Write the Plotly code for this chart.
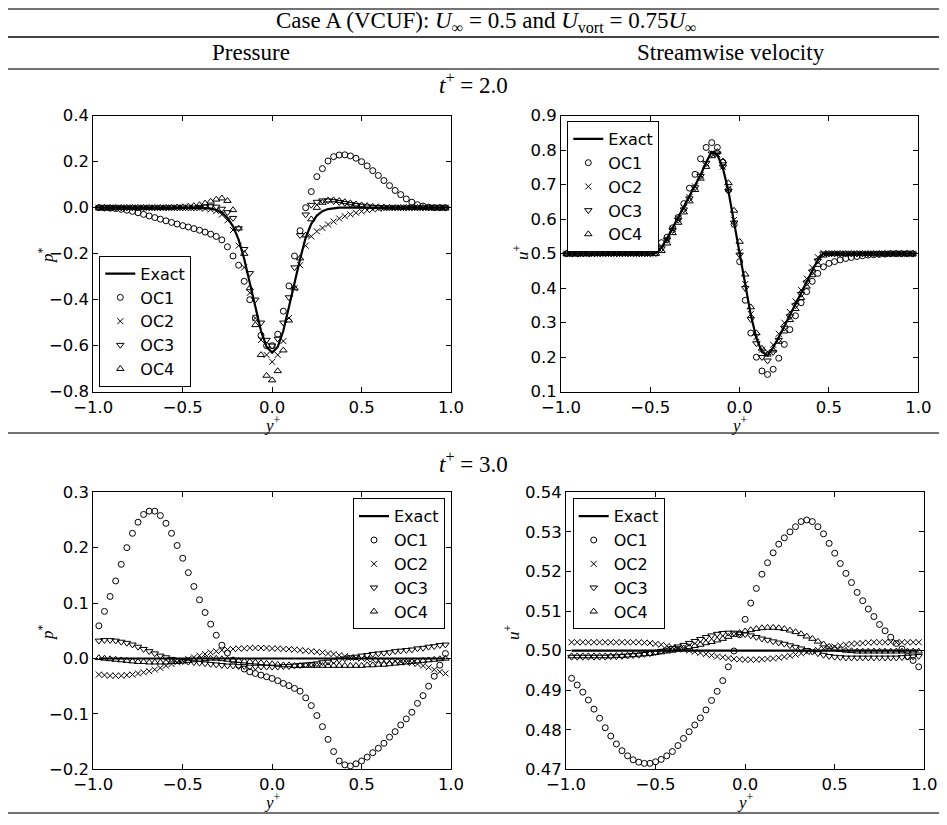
import plotly.graph_objects as go

# ---------------- data ----------------
Y_PLUS = [-0.9688, -0.9375, -0.9062, -0.8750, -0.8438, -0.8125, -0.7812, -0.7500,
          -0.7188, -0.6875, -0.6562, -0.6250, -0.5938, -0.5625, -0.5312, -0.5000,
          -0.4688, -0.4375, -0.4062, -0.3750, -0.3438, -0.3125, -0.2812, -0.2500,
          -0.2188, -0.1875, -0.1562, -0.1250, -0.0938, -0.0625, -0.0312, 0.0,
          0.0312, 0.0625, 0.0938, 0.1250, 0.1562, 0.1875, 0.2188, 0.2500,
          0.2812, 0.3125, 0.3438, 0.3750, 0.4062, 0.4375, 0.4688, 0.5000,
          0.5312, 0.5625, 0.5938, 0.6250, 0.6562, 0.6875, 0.7188, 0.7500,
          0.7812, 0.8125, 0.8438, 0.8750, 0.9062, 0.9375, 0.9688]

SERIES_NAMES = ["Exact", "OC1", "OC2", "OC3", "OC4"]

# t+ = 2.0, pressure
P2_EXACT = [0, 0, 0, 0, 0, 0, 0, 0, 0, 0, 0, 0, 0, 0, 0, 0,
            0, 0, 0, -0.002, -0.004, -0.010, -0.022, -0.044,
            -0.081, -0.139, -0.223, -0.323, -0.432, -0.535, -0.605, -0.630,
            -0.605, -0.535, -0.432, -0.323, -0.223, -0.130, -0.070, -0.034,
            -0.015, -0.006, -0.002, 0, 0, 0, 0, 0,
            0, 0, 0, 0, 0, 0, 0, 0, 0, 0, 0, 0, 0, 0, 0]
P2_OC1 = [0.000, -0.001, -0.002, -0.004, -0.007, -0.011, -0.016, -0.022,
          -0.029, -0.036, -0.043, -0.050, -0.057, -0.064, -0.071, -0.078,
          -0.084, -0.091, -0.098, -0.106, -0.115, -0.125, -0.140, -0.170,
          -0.210, -0.250, -0.320, -0.400, -0.480, -0.555, -0.600, -0.600,
          -0.550, -0.450, -0.340, -0.210, -0.100, 0.000, 0.070, 0.135,
          0.170, 0.203, 0.222, 0.229, 0.230, 0.225, 0.215, 0.200,
          0.182, 0.161, 0.140, 0.118, 0.096, 0.075, 0.057, 0.038,
          0.024, 0.013, 0.007, 0.002, 0.000, 0.000, 0.000]
P2_OC2 = [0, 0, 0, 0, 0, 0, 0, 0, 0, 0, 0, 0, 0, 0, 0, 0,
          0, 0, -0.002, -0.004, -0.008, -0.015, -0.030, -0.055,
          -0.097, -0.165, -0.260, -0.370, -0.480, -0.575, -0.640, -0.670,
          -0.640, -0.580, -0.480, -0.350, -0.250, -0.165, -0.125, -0.103,
          -0.088, -0.073, -0.060, -0.047, -0.037, -0.029, -0.022, -0.016,
          -0.011, -0.007, -0.004, -0.002, -0.001, 0, 0, 0,
          0, 0, 0, 0, 0, 0, 0]
P2_OC3 = [0, 0, 0, 0, 0, 0, 0, 0, 0, 0, 0, 0, 0, 0, 0, 0,
          0, 0, 0.003, 0.005, 0.006, 0.004, -0.005, -0.020,
          -0.045, -0.090, -0.180, -0.285, -0.400, -0.500, -0.575, -0.600,
          -0.570, -0.500, -0.390, -0.260, -0.120, -0.030, 0.012, 0.025,
          0.031, 0.031, 0.028, 0.024, 0.020, 0.015, 0.011, 0.008,
          0.005, 0.003, 0.002, 0.001, 0, 0, 0, 0,
          0, 0, 0, 0, 0, 0, 0]
P2_OC4 = [0, 0, 0, 0, 0, 0, 0, 0, 0, 0, 0, 0, 0, 0.001, 0.002, 0.003,
          0.005, 0.008, 0.012, 0.019, 0.027, 0.036, 0.041, 0.030,
          -0.010, -0.090, -0.200, -0.350, -0.510, -0.640, -0.730, -0.750,
          -0.710, -0.620, -0.490, -0.350, -0.220, -0.120, -0.050, 0.000,
          0.022, 0.032, 0.033, 0.030, 0.025, 0.020, 0.015, 0.011,
          0.008, 0.005, 0.003, 0.002, 0.001, 0, 0, 0,
          0, 0, 0, 0, 0, 0, 0]

# t+ = 2.0, streamwise velocity
U2_EXACT = [0.5, 0.5, 0.5, 0.5, 0.5, 0.5, 0.5, 0.5, 0.5, 0.5, 0.5, 0.5, 0.5, 0.5, 0.5, 0.5,
            0.503, 0.518, 0.545, 0.575, 0.605, 0.635, 0.665, 0.695,
            0.728, 0.765, 0.795, 0.787, 0.748, 0.680, 0.590, 0.500,
            0.410, 0.322, 0.255, 0.215, 0.205, 0.228, 0.258, 0.290,
            0.320, 0.352, 0.385, 0.418, 0.450, 0.482, 0.500, 0.5,
            0.5, 0.5, 0.5, 0.5, 0.5, 0.5, 0.5, 0.5, 0.5, 0.5, 0.5, 0.5, 0.5, 0.5, 0.5]
U2_OC1 = [0.500, 0.500, 0.500, 0.501, 0.501, 0.502, 0.503, 0.504,
          0.505, 0.506, 0.507, 0.508, 0.510, 0.512, 0.515, 0.518,
          0.523, 0.532, 0.548, 0.575, 0.605, 0.645, 0.690, 0.730,
          0.775, 0.808, 0.822, 0.808, 0.765, 0.685, 0.585, 0.477,
          0.365, 0.270, 0.200, 0.160, 0.150, 0.165, 0.197, 0.237,
          0.280, 0.320, 0.358, 0.390, 0.420, 0.443, 0.462, 0.472,
          0.477, 0.482, 0.486, 0.489, 0.492, 0.494, 0.496, 0.497,
          0.498, 0.499, 0.500, 0.500, 0.500, 0.500, 0.500]
U2_OC2 = [0.5, 0.5, 0.5, 0.5, 0.5, 0.5, 0.5, 0.5, 0.5, 0.5, 0.5, 0.5, 0.5, 0.5, 0.5, 0.5,
          0.502, 0.516, 0.542, 0.572, 0.602, 0.633, 0.664, 0.695,
          0.728, 0.762, 0.792, 0.788, 0.752, 0.688, 0.598, 0.505,
          0.412, 0.325, 0.258, 0.222, 0.215, 0.236, 0.268, 0.300,
          0.331, 0.362, 0.395, 0.428, 0.460, 0.490, 0.502, 0.5,
          0.5, 0.5, 0.5, 0.5, 0.5, 0.5, 0.5, 0.5, 0.5, 0.5, 0.5, 0.5, 0.5, 0.5, 0.5]
U2_OC3 = [0.5, 0.5, 0.5, 0.5, 0.5, 0.5, 0.5, 0.5, 0.5, 0.5, 0.5, 0.5, 0.5, 0.5, 0.5, 0.5,
          0.501, 0.515, 0.540, 0.568, 0.598, 0.628, 0.660, 0.692,
          0.725, 0.762, 0.790, 0.790, 0.752, 0.682, 0.590, 0.497,
          0.400, 0.310, 0.240, 0.200, 0.190, 0.215, 0.250, 0.285,
          0.318, 0.350, 0.383, 0.416, 0.448, 0.480, 0.500, 0.5,
          0.5, 0.5, 0.5, 0.5, 0.5, 0.5, 0.5, 0.5, 0.5, 0.5, 0.5, 0.5, 0.5, 0.5, 0.5]
U2_OC4 = [0.5, 0.5, 0.5, 0.5, 0.5, 0.5, 0.5, 0.5, 0.5, 0.5, 0.5, 0.5, 0.5, 0.5, 0.5, 0.5,
          0.500, 0.508, 0.530, 0.560, 0.590, 0.620, 0.652, 0.685,
          0.718, 0.752, 0.783, 0.795, 0.768, 0.705, 0.625, 0.535,
          0.440, 0.345, 0.270, 0.225, 0.208, 0.220, 0.245, 0.275,
          0.308, 0.340, 0.372, 0.405, 0.438, 0.468, 0.495, 0.5,
          0.5, 0.5, 0.5, 0.5, 0.5, 0.5, 0.5, 0.5, 0.5, 0.5, 0.5, 0.5, 0.5, 0.5, 0.5]

# t+ = 3.0, pressure
P3_EXACT = [0, 0, 0, 0, 0, 0, 0, 0, 0, 0, 0, 0, 0, 0, 0, 0,
            0, 0, 0, 0, 0, 0, 0, 0, 0, 0, 0, 0, 0, 0, 0, 0,
            0, 0, 0, 0, 0, 0, 0, 0, 0, 0, 0, 0, 0, 0, 0, 0,
            0, 0, 0, 0, 0, 0, 0, 0, 0, 0, 0, 0, 0, 0, 0]
P3_OC1 = [0.059, 0.085, 0.112, 0.140, 0.170, 0.200, 0.226, 0.246,
          0.260, 0.266, 0.266, 0.258, 0.244, 0.226, 0.204, 0.181,
          0.155, 0.130, 0.106, 0.083, 0.062, 0.042, 0.024, 0.010,
          -0.003, -0.012, -0.019, -0.024, -0.027, -0.030, -0.033, -0.036,
          -0.040, -0.045, -0.049, -0.054, -0.059, -0.071, -0.085, -0.103,
          -0.123, -0.146, -0.168, -0.185, -0.192, -0.194, -0.190, -0.185,
          -0.178, -0.170, -0.162, -0.153, -0.142, -0.132, -0.120, -0.109,
          -0.097, -0.081, -0.067, -0.050, -0.032, -0.012, 0.009]
P3_OC2 = [-0.029, -0.030, -0.031, -0.031, -0.031, -0.030, -0.029, -0.027,
          -0.025, -0.023, -0.020, -0.017, -0.013, -0.010, -0.007, -0.004,
          -0.001, 0.002, 0.005, 0.008, 0.011, 0.013, 0.015, 0.016,
          0.017, 0.018, 0.018, 0.019, 0.019, 0.019, 0.019, 0.018,
          0.018, 0.017, 0.017, 0.016, 0.015, 0.014, 0.013, 0.012,
          0.011, 0.009, 0.008, 0.006, 0.004, 0.002, 0.001, 0.000,
          -0.001, -0.002, -0.003, -0.004, -0.004, -0.005, -0.006, -0.007,
          -0.008, -0.010, -0.013, -0.016, -0.020, -0.024, -0.027]
P3_OC3 = [0.032, 0.033, 0.033, 0.032, 0.030, 0.028, 0.025, 0.021,
          0.017, 0.013, 0.009, 0.005, 0.002, -0.001, -0.003, -0.005,
          -0.006, -0.007, -0.008, -0.009, -0.010, -0.011, -0.012, -0.013,
          -0.013, -0.014, -0.014, -0.015, -0.015, -0.015, -0.015, -0.015,
          -0.015, -0.014, -0.014, -0.013, -0.012, -0.011, -0.010, -0.009,
          -0.007, -0.006, -0.004, -0.002, 0.000, 0.002, 0.003, 0.005,
          0.006, 0.008, 0.009, 0.010, 0.011, 0.013, 0.014, 0.015,
          0.016, 0.018, 0.019, 0.021, 0.022, 0.024, 0.025]
P3_OC4 = [0.001, 0.000, -0.001, -0.002, -0.003, -0.004, -0.005, -0.006,
          -0.006, -0.007, -0.007, -0.007, -0.007, -0.006, -0.006, -0.005,
          -0.004, -0.003, -0.002, -0.001, 0.000, 0.000, -0.001, -0.002,
          -0.003, -0.004, -0.005, -0.006, -0.007, -0.008, -0.009, -0.010,
          -0.011, -0.012, -0.012, -0.013, -0.013, -0.013, -0.013, -0.013,
          -0.013, -0.013, -0.013, -0.013, -0.013, -0.013, -0.013, -0.013,
          -0.012, -0.012, -0.011, -0.011, -0.010, -0.009, -0.008, -0.007,
          -0.006, -0.005, -0.004, -0.003, -0.002, -0.001, 0.000]

# t+ = 3.0, streamwise velocity
U3_EXACT = [0.5, 0.5, 0.5, 0.5, 0.5, 0.5, 0.5, 0.5, 0.5, 0.5, 0.5, 0.5, 0.5, 0.5, 0.5, 0.5,
            0.5, 0.5, 0.5, 0.5, 0.5, 0.5, 0.5, 0.5, 0.5, 0.5, 0.5, 0.5, 0.5, 0.5, 0.5, 0.5,
            0.5, 0.5, 0.5, 0.5, 0.5, 0.5, 0.5, 0.5, 0.5, 0.5, 0.5, 0.5, 0.5, 0.5, 0.5, 0.5,
            0.5, 0.5, 0.5, 0.5, 0.5, 0.5, 0.5, 0.5, 0.5, 0.5, 0.5, 0.5, 0.5, 0.5, 0.5]
U3_OC1 = [0.4930, 0.4913, 0.4895, 0.4875, 0.4852, 0.4829, 0.4805, 0.4784,
          0.4764, 0.4747, 0.4734, 0.4724, 0.4718, 0.4715, 0.4715, 0.4719,
          0.4725, 0.4734, 0.4745, 0.4760, 0.4778, 0.4795, 0.4812, 0.4830,
          0.4850, 0.4874, 0.4897, 0.4924, 0.4959, 0.4999, 0.5040, 0.5079,
          0.5120, 0.5157, 0.5193, 0.5222, 0.5247, 0.5269, 0.5285, 0.5300,
          0.5313, 0.5326, 0.5330, 0.5326, 0.5313, 0.5295, 0.5271, 0.5246,
          0.5220, 0.5195, 0.5172, 0.5147, 0.5126, 0.5105, 0.5086, 0.5066,
          0.5050, 0.5034, 0.5018, 0.5004, 0.4985, 0.4975, 0.4959]
U3_OC2 = [0.5021, 0.5021, 0.5021, 0.5021, 0.5021, 0.5021, 0.5021, 0.5021,
          0.5021, 0.5021, 0.5021, 0.5021, 0.5021, 0.5020, 0.5019, 0.5017,
          0.5015, 0.5012, 0.5009, 0.5006, 0.5003, 0.5000, 0.4997, 0.4994,
          0.4991, 0.4988, 0.4985, 0.4983, 0.4981, 0.4979, 0.4978, 0.4977,
          0.4977, 0.4977, 0.4978, 0.4979, 0.4980, 0.4982, 0.4984, 0.4987,
          0.4990, 0.4993, 0.4996, 0.4999, 0.5002, 0.5005, 0.5008, 0.5010,
          0.5013, 0.5015, 0.5017, 0.5018, 0.5019, 0.5020, 0.5021, 0.5021,
          0.5021, 0.5021, 0.5021, 0.5021, 0.5021, 0.5021, 0.5021]
U3_OC3 = [0.4984, 0.4984, 0.4984, 0.4984, 0.4984, 0.4984, 0.4984, 0.4985,
          0.4985, 0.4986, 0.4987, 0.4988, 0.4989, 0.4991, 0.4993, 0.4996,
          0.4999, 0.5002, 0.5006, 0.5010, 0.5014, 0.5019, 0.5024, 0.5029,
          0.5034, 0.5038, 0.5042, 0.5044, 0.5045, 0.5045, 0.5043, 0.5041,
          0.5038, 0.5034, 0.5030, 0.5027, 0.5023, 0.5020, 0.5017, 0.5013,
          0.5009, 0.5005, 0.5001, 0.4997, 0.4993, 0.4989, 0.4986, 0.4984,
          0.4983, 0.4982, 0.4982, 0.4982, 0.4982, 0.4982, 0.4982, 0.4982,
          0.4982, 0.4982, 0.4982, 0.4983, 0.4984, 0.4985, 0.4986]
U3_OC4 = [0.4986, 0.4986, 0.4986, 0.4986, 0.4986, 0.4986, 0.4986, 0.4986,
          0.4987, 0.4987, 0.4988, 0.4989, 0.4990, 0.4991, 0.4992, 0.4994,
          0.4996, 0.4998, 0.5000, 0.5003, 0.5006, 0.5009, 0.5012, 0.5015,
          0.5019, 0.5022, 0.5026, 0.5030, 0.5035, 0.5040, 0.5045, 0.5049,
          0.5052, 0.5055, 0.5057, 0.5058, 0.5058, 0.5057, 0.5055, 0.5051,
          0.5047, 0.5042, 0.5036, 0.5030, 0.5023, 0.5016, 0.5010, 0.5005,
          0.5002, 0.5000, 0.4999, 0.4998, 0.4998, 0.4998, 0.4998, 0.4998,
          0.4998, 0.4998, 0.4998, 0.4998, 0.4998, 0.4998, 0.4998]

X_TICKS = [-1.0, -0.5, 0.0, 0.5, 1.0]
P2_TICKS = [-0.8, -0.6, -0.4, -0.2, 0.0, 0.2, 0.4]
U2_TICKS = [0.1, 0.2, 0.3, 0.4, 0.5, 0.6, 0.7, 0.8, 0.9]
P3_TICKS = [-0.2, -0.1, 0.0, 0.1, 0.2, 0.3]
U3_TICKS = [0.47, 0.48, 0.49, 0.50, 0.51, 0.52, 0.53, 0.54]

# ---------------- layout helpers (screen pixel -> paper) ----------------
# The page body has an 8px margin, so the figure is shrunk and shifted.
OFF = 8
W, H = 947 - 2 * OFF, 825 - 2 * OFF


def fx(p):
    return (p - OFF) / W


def fy(p):
    return 1 - (p - OFF) / H


TICK_FONT = dict(family="DejaVu Sans", size=16.5, color="black")
SERIF = "Liberation Serif"

panels = [
    dict(ax="", data=[P2_EXACT, P2_OC1, P2_OC2, P2_OC3, P2_OC4],
         xd=(93.3, 451.0), yd=(115.7, 391.7), yr=[-0.8, 0.4], yt=P2_TICKS, fmt=".1f",
         leg="legend", legpos=dict(x=fx(99.3), y=fy(386.7), xanchor="left", yanchor="bottom"),
         ylab="<i>p</i><sup>*</sup>", ylabpos=(46, 255), xlabpos=(272, 424)),
    dict(ax="2", data=[U2_EXACT, U2_OC1, U2_OC2, U2_OC3, U2_OC4],
         xd=(561.0, 918.3), yd=(115.7, 391.7), yr=[0.1, 0.9], yt=U2_TICKS, fmt=".1f",
         leg="legend2", legpos=dict(x=fx(567.3), y=fy(121.0), xanchor="left", yanchor="top"),
         ylab="<i>u</i><sup>+</sup>", ylabpos=(521, 252), xlabpos=(739, 424)),
    dict(ax="3", data=[P3_EXACT, P3_OC1, P3_OC2, P3_OC3, P3_OC4],
         xd=(93.3, 451.0), yd=(492.3, 769.3), yr=[-0.2, 0.3], yt=P3_TICKS, fmt=".1f",
         leg="legend3", legpos=dict(x=fx(445.0), y=fy(498.3), xanchor="right", yanchor="top"),
         ylab="<i>p</i><sup>*</sup>", ylabpos=(46, 632), xlabpos=(272, 801)),
    dict(ax="4", data=[U3_EXACT, U3_OC1, U3_OC2, U3_OC3, U3_OC4],
         xd=(566.0, 924.3), yd=(492.3, 769.3), yr=[0.47, 0.54], yt=U3_TICKS, fmt=".2f",
         leg="legend4", legpos=dict(x=fx(572.7), y=fy(498.3), xanchor="left", yanchor="top"),
         ylab="<i>u</i><sup>+</sup>", ylabpos=(512, 632), xlabpos=(745, 801)),
]

MARKERS = [None,
           dict(symbol="circle-open", size=6, color="black", line=dict(width=1, color="black")),
           dict(symbol="x-thin", size=6, color="black", line=dict(width=1, color="black")),
           dict(symbol="triangle-down-open", size=6.5, color="black", line=dict(width=1, color="black")),
           dict(symbol="triangle-up-open", size=6.5, color="black", line=dict(width=1, color="black"))]

fig = go.Figure()
layout = dict(width=W, height=H, margin=dict(l=0, r=0, t=0, b=0, pad=0),
              paper_bgcolor="white", plot_bgcolor="white", showlegend=True)
annotations = []

for p in panels:
    xa = "x" + p["ax"]
    ya = "y" + p["ax"]
    for i, (name, vals) in enumerate(zip(SERIES_NAMES, p["data"])):
        if i == 0:
            tr = go.Scatter(x=Y_PLUS, y=vals, mode="lines", name=name,
                            line=dict(color="black", width=2.2))
        else:
            tr = go.Scatter(x=Y_PLUS, y=vals, mode="markers", name=name,
                            marker=MARKERS[i])
        tr.update(xaxis=xa, yaxis=ya, legend=p["leg"], cliponaxis=True)
        fig.add_trace(tr)

    common = dict(showline=True, linecolor="black", linewidth=1, mirror="allticks",
                  ticks="inside", ticklen=5, tickwidth=1, tickcolor="black",
                  showgrid=False, zeroline=False, tickfont=TICK_FONT, automargin=False)
    layout["xaxis" + p["ax"]] = dict(domain=[fx(p["xd"][0]), fx(p["xd"][1])],
                                     range=[-1, 1], tickvals=X_TICKS, tickformat=".1f",
                                     anchor=ya, **common)
    layout["yaxis" + p["ax"]] = dict(domain=[fy(p["yd"][1]), fy(p["yd"][0])],
                                     range=p["yr"], tickvals=p["yt"], tickformat=p["fmt"],
                                     anchor=xa, **common)
    layout[p["leg"]] = dict(bgcolor="white", bordercolor="black", borderwidth=1,
                            font=dict(family="DejaVu Sans", size=16, color="black"),
                            tracegroupgap=0, itemwidth=30, itemclick=False,
                            **p["legpos"])
    annotations.append(dict(text=p["ylab"], x=fx(p["ylabpos"][0]), y=fy(p["ylabpos"][1]),
                            xref="paper", yref="paper", showarrow=False, textangle=-90,
                            xanchor="center", yanchor="middle",
                            font=dict(family=SERIF, size=17, color="black")))
    annotations.append(dict(text="<i>y</i><sup>+</sup>", x=fx(p["xlabpos"][0]), y=fy(p["xlabpos"][1]),
                            xref="paper", yref="paper", showarrow=False,
                            xanchor="center", yanchor="middle",
                            font=dict(family=SERIF, size=17, color="black")))

HEAD_FONT = dict(family=SERIF, size=23, color="black")
headings = [
    ("Case A (VCUF): <i>U</i><sub>∞</sub> = 0.5 and <i>U</i><sub>vort</sub> = 0.75<i>U</i><sub>∞</sub>", 487, 22),
    ("Pressure", 251, 52),
    ("Streamwise velocity", 731, 52),
    ("<i>t</i><sup>+</sup> = 2.0", 473, 84),
    ("<i>t</i><sup>+</sup> = 3.0", 473, 462),
]
for txt, x, y in headings:
    annotations.append(dict(text=txt, x=fx(x), y=fy(y), xref="paper", yref="paper",
                            showarrow=False, xanchor="center", yanchor="middle",
                            font=HEAD_FONT))

shapes = []
for yy, w in [(9, 1.5), (37, 1.8), (69, 1.3), (433, 1.3), (813, 1.5)]:
    shapes.append(dict(type="line", xref="paper", yref="paper", x0=0, x1=1,
                       y0=fy(yy), y1=fy(yy), line=dict(color="#444", width=w)))

layout["annotations"] = annotations
layout["shapes"] = shapes
fig.update_layout(**layout)
fig.write_html("out.html")
